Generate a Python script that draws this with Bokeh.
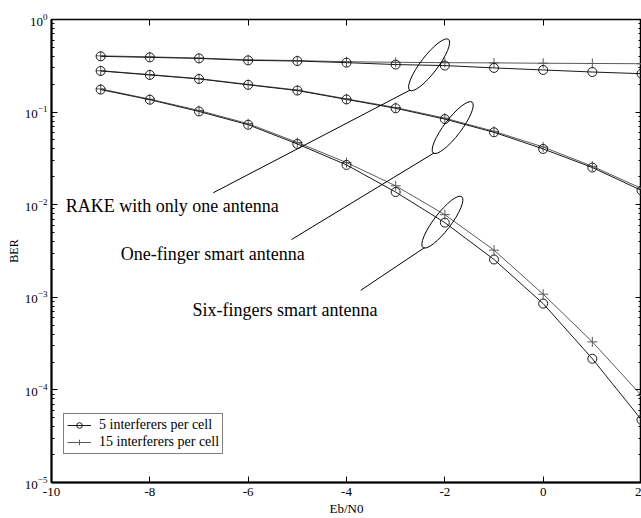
from bokeh.plotting import figure
from bokeh.models import (LogAxis, LinearAxis, Legend, LegendItem, FixedTicker, Range1d,
                          PrintfTickFormatter)
from bokeh.embed import file_html
from bokeh.resources import INLINE
from bokeh.core.properties import value

# ---- data ----
ebn0 = [-9, -8, -7, -6, -5, -4, -3, -2, -1, 0, 1, 2]

rake_5 = [0.400, 0.390, 0.380, 0.362, 0.356, 0.342, 0.326, 0.318, 0.300, 0.285, 0.271, 0.260]
rake_15 = [0.405, 0.395, 0.383, 0.367, 0.360, 0.350, 0.345, 0.342, 0.340, 0.337, 0.335, 0.333]

one_5 = [0.278, 0.252, 0.228, 0.197, 0.171, 0.137, 0.110, 0.084, 0.0605, 0.040, 0.0252, 0.01425]
one_15 = [0.280, 0.254, 0.230, 0.199, 0.173, 0.139, 0.112, 0.086, 0.062, 0.042, 0.026, 0.0150]

six_5 = [0.175, 0.136, 0.1016, 0.073, 0.0453, 0.0269, 0.0137, 0.0064, 0.00256, 0.000855, 0.000217, 4.75e-5]
six_15 = [0.178, 0.138, 0.104, 0.075, 0.047, 0.0285, 0.016, 0.0078, 0.00323, 0.00108, 0.00033, 8.7e-5]

x_ticks = [-10, -8, -6, -4, -2, 0, 2]
x_tick_labels = ["-10", "-8", "-6", "-4", "-2", "0", "2"]
y_decades = [-5, -4, -3, -2, -1, 0]
x_title = "Eb/N0"
y_title = "BER"

legend_labels = ["5 interferers per cell", "15 interferers per cell"]

# annotations: ellipse centres, leader lines and texts (data coordinates)
ell_x = [-2.32, -1.84, -2.05]
ell_y = [0.324, 0.068, 0.00648]
lead_x0 = [-2.71, -2.22, -2.41]
lead_y0 = [0.1725, 0.0362, 0.00345]
lead_x1 = [-6.71, -5.12, -3.71]
lead_y1 = [0.01346, 0.0042, 0.00119]
note_x = [-9.71, -8.59, -7.13]
note_y = [0.0096, 0.00297, 0.00073]
note_text = ["RAKE with only one antenna", "One-finger smart antenna", "Six-fingers smart antenna"]

FONT = "Liberation Serif"
C5 = "#1a1a1a"
C15 = "#5a5a5a"

p = figure(width=641, height=518, x_range=Range1d(-10, 2), y_range=Range1d(1e-5, 1),
           y_axis_type="log", output_backend="svg", toolbar_location=None,
           min_border_left=51, min_border_top=19, min_border_right=0, min_border_bottom=34)
p.grid.visible = False
p.outline_line_color = "black"
p.outline_line_width = 1.5
p.background_fill_color = "white"

minor = [m * 10.0 ** e for e in y_decades[:-1] for m in range(2, 10)]
yticker = FixedTicker(ticks=[10.0 ** e for e in y_decades], minor_ticks=minor)
xticker = FixedTicker(ticks=x_ticks, minor_ticks=[])

def style_axis(ax, show_labels):
    ax.major_tick_in = 6
    ax.major_tick_out = 0
    ax.minor_tick_in = 3
    ax.minor_tick_out = 0
    ax.major_tick_line_color = "black"
    ax.minor_tick_line_color = "black"
    ax.axis_line_color = "black"
    ax.major_label_text_font = FONT
    ax.major_label_text_color = "black"
    if not show_labels:
        ax.formatter = PrintfTickFormatter(format=" ")
        ax.major_label_text_color = None
        ax.major_label_text_font_size = "1px"
        ax.major_label_standoff = 0

# left / bottom
p.yaxis.ticker = yticker
p.xaxis.ticker = xticker
p.xaxis.major_label_overrides = {t: s for t, s in zip(x_ticks, x_tick_labels)}
for ax in [p.yaxis[0], p.xaxis[0]]:
    style_axis(ax, True)
    ax.axis_line_width = 2
    ax.major_label_text_font_size = "13px"
    ax.axis_label_text_font = FONT
    ax.axis_label_text_font_style = "normal"
    ax.axis_label_text_color = "black"
p.yaxis.axis_label = y_title
p.yaxis.axis_label_text_font_size = "12px"
p.yaxis.major_label_standoff = 4
p.yaxis.axis_label_standoff = 1
p.xaxis.axis_label = x_title
p.xaxis.axis_label_text_font_size = "13px"
p.xaxis.major_label_standoff = 5
p.xaxis.axis_label_standoff = 2

# top / right (ticks only)
top = LinearAxis(ticker=xticker)
style_axis(top, False)
p.add_layout(top, "above")
right = LogAxis(ticker=yticker)
style_axis(right, False)
p.add_layout(right, "right")

# series
items5 = []
items15 = []
for ys5, ys15 in [(rake_5, rake_15), (one_5, one_15), (six_5, six_15)]:
    l15 = p.line(ebn0, ys15, line_color=C15, line_width=1)
    s15 = p.scatter(ebn0, ys15, marker="cross", size=10, line_color=C15, line_width=1)
    l5 = p.line(ebn0, ys5, line_color=C5, line_width=1)
    s5 = p.scatter(ebn0, ys5, marker="circle", size=9, fill_color=None, line_color=C5, line_width=1)
    items5 += [l5, s5]
    items15 += [l15, s15]

# annotations
p.ellipse(x=ell_x, y=ell_y, width=64, height=17, angle=0.92,
          width_units="screen", height_units="screen",
          fill_color=None, line_color="black", line_width=1)
p.segment(x0=lead_x0, y0=lead_y0, x1=lead_x1, y1=lead_y1, line_color="black", line_width=1)
p.text(x=note_x, y=note_y, text=note_text, text_font=value(FONT), text_font_size="18px",
       text_baseline="alphabetic", text_align="left", text_color="black")

legend = Legend(items=[LegendItem(label=legend_labels[0], renderers=items5[:2]),
                       LegendItem(label=legend_labels[1], renderers=items15[:2])],
                location=(12, 28))
legend.border_line_color = "black"
legend.border_line_width = 1.5
legend.background_fill_color = "white"
legend.background_fill_alpha = 1
legend.label_text_font = FONT
legend.label_text_font_size = "14px"
legend.label_text_color = "black"
legend.glyph_width = 24
legend.glyph_height = 14
legend.label_height = 14
legend.spacing = 1
legend.padding = 3
legend.margin = 0
legend.label_standoff = 8
p.add_layout(legend, "center")

open("out.html", "w").write(file_html(p, INLINE))
